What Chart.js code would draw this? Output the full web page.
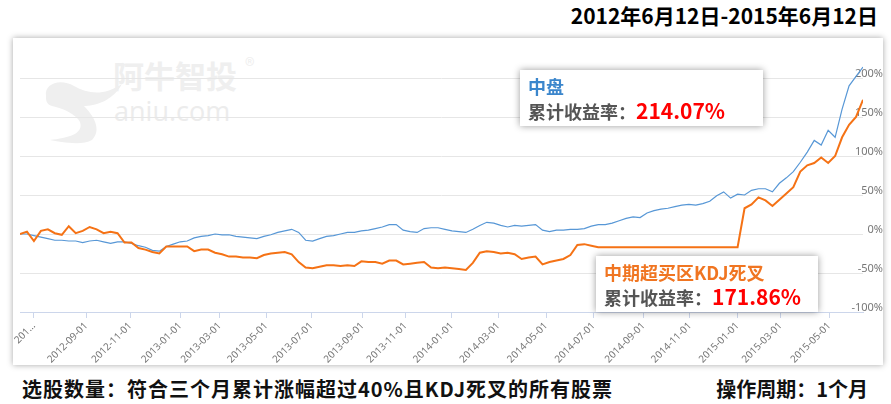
<!DOCTYPE html>
<html lang="zh">
<head>
<meta charset="UTF-8">
<title>中盘 vs 中期超买区KDJ死叉</title>
<script src="https://cdn.jsdelivr.net/npm/chart.js"></script>
<style>
    body {
        margin: 0;
        width: 891px;
        height: 404px;
        background: #fff;
        font-family: "Noto Sans CJK SC", "Noto Sans", sans-serif;
        position: relative;
        overflow: hidden;
    }
    .title {
        position: absolute;
        right: 13px;
        top: 0px;
        font-size: 21px;
        font-weight: bold;
        color: #000;
    }
    .card {
        position: absolute;
        left: 13px;
        top: 38px;
        width: 870px;
        height: 327px;
        background: #fff;
        box-shadow: 0 0 6px rgba(0,0,0,0.35);
    }
    .card canvas { position: absolute; left: 0; top: 0; }
    .wm-cn {
        position: absolute; left: 100px; top: 14px;
        font-size: 31px; font-weight: bold; color: #efefef;
    }
    .wm-reg {
        position: absolute; left: 232px; top: 12px;
        font-size: 20px; color: #efefef;
    }
    .wm-en {
        position: absolute; left: 101px; top: 54px;
        font-size: 27px; color: #ececec; font-family: "Open Sans", sans-serif;
    }
    .wm-logo { position: absolute; left: 25px; top: 18px; }
    .box {
        position: absolute;
        background: #fff;
        box-shadow: 0 0 7px rgba(0,0,0,0.4);
        padding: 4px 8px;
        font-weight: bold;
        line-height: 24px;
        white-space: nowrap;
    }
    .box .name { font-size: 18px; }
    .box .lbl { font-size: 18px; color: #555; }
    .box .val { font-size: 21px; color: #f00; }
    .foot {
        position: absolute;
        top: 374px;
        font-size: 20px;
        font-weight: bold;
        color: #111;
        white-space: nowrap;
    }
</style>
</head>
<body>
<div class="title">2012年6月12日-2015年6月12日</div>

<div class="card">
    <svg class="wm-logo" width="90" height="90" viewBox="0 0 90 90">
        <path d="M8 40 C 6 28, 22 22, 36 30 C 50 38, 66 40, 84 28 C 74 46, 56 50, 46 50 C 56 60, 64 74, 54 84 C 44 90, 22 86, 12 84 C 30 82, 46 78, 42 66 C 38 58, 24 52, 14 50 C 8 48, 8 44, 8 40 Z" fill="#efefef"/>
    </svg>
    <div class="wm-cn">阿牛智投</div>
    <div class="wm-reg">®</div>
    <div class="wm-en">aniu.com</div>
    <canvas id="chart"></canvas>
</div>

<div class="box" style="left:520px; top:70px; width:227px; height:48px;">
    <div class="name" style="color:#3b86cc;">中盘</div>
    <div><span class="lbl">累计收益率：</span><span class="val">214.07%</span></div>
</div>
<div class="box" style="left:596px; top:256px; width:206px; height:48px;">
    <div class="name" style="color:#f07521;">中期超买区KDJ死叉</div>
    <div><span class="lbl">累计收益率：</span><span class="val">171.86%</span></div>
</div>

<div class="foot" style="left:22px; letter-spacing:1px;">选股数量：符合三个月累计涨幅超过40%且KDJ死叉的所有股票</div>
<div class="foot" style="right:23px;">操作周期：1个月</div>

<script>
// one sample every STEP trading days, starting 2012-06-12
const STEP = 6;
const LAST_DAY = 726;

// 中盘 cumulative return (%)
const midCap = [
    0, 0, -2, -4, -6, -8, -8, -9, -9, -11,
    -9, -8, -10, -12, -10, -10, -12, -15, -17, -21,
    -22, -16, -13, -10, -9, -5, -3, -2, 0, -1,
    -1, -3, -4, -5, -6, -3, -1, 2, 4, 6,
    2, -8, -9, -6, -3, -2, 0, 2, 2, 4,
    5, 7, 9, 12, 12, 5, 3, 2, 7, 8,
    8, 6, 4, 3, 2, 6, 11, 15, 14, 11,
    9, 11, 10, 11, 12, 5, 3, 5, 5, 6,
    6, 7, 10, 12, 12, 14, 17, 20, 22, 21,
    27, 30, 32, 33, 35, 37, 38, 37, 39, 42,
    49, 54, 46, 51, 50, 56, 58, 58, 54, 65,
    72, 80, 92, 105, 120, 114, 133, 124, 160, 190,
    202, 214
];

// 中期超买区KDJ死叉 cumulative return (%)
const kdjCross = [
    0, 3, -9, 4, 6, 1, -1, 10, 1, 4,
    9, 6, 1, 3, 1, -11, -11, -18, -20, -23,
    -25, -16, -16, -16, -16, -22, -20, -20, -24, -26,
    -29, -29, -30, -30, -31, -27, -25, -24, -23, -26,
    -36, -43, -44, -42, -40, -40, -41, -40, -41, -35,
    -36, -36, -38, -34, -34, -39, -38, -37, -36, -43,
    -44, -43, -44, -45, -46, -37, -24, -22, -23, -25,
    -24, -26, -32, -30, -29, -39, -36, -34, -32, -27,
    -14, -13, -15, -17, -17, -17, -17, -17, -17, -17,
    -17, -17, -17, -17, -17, -17, -17, -17, -17, -17,
    -17, -17, -17, -17, 33, 38, 47, 43, 36, 44,
    52, 60, 80, 88, 91, 98, 91, 100, 124, 140,
    150, 172
];

// x-axis tick positions (trading-day index) and their labels
const tickDays = [12, 57, 95, 138, 172, 212, 251, 295, 332, 372, 412, 453, 494, 537, 577, 618, 655, 697];
const tickLabels = ['201…', '2012-09-01', '2012-11-01', '2013-01-01', '2013-03-01', '2013-05-01',
    '2013-07-01', '2013-09-01', '2013-11-01', '2014-01-01', '2014-03-01', '2014-05-01',
    '2014-07-01', '2014-09-01', '2014-11-01', '2015-01-01', '2015-03-01', '2015-05-01'];
const yTicks = [-100, -50, 0, 50, 100, 150, 200];

function toPoints(arr) {
    return arr.map((v, i) => ({x: Math.min(i * STEP, LAST_DAY), y: v}));
}

const ctx = document.getElementById('chart').getContext('2d');
new Chart(ctx, {
    type: 'line',
    data: {
        datasets: [
            {
                label: '中期超买区KDJ死叉',
                data: toPoints(kdjCross),
                borderColor: '#f57215',
                borderWidth: 2,
                pointRadius: 0,
                tension: 0
            },
            {
                label: '中盘',
                data: toPoints(midCap),
                borderColor: '#5797d6',
                borderWidth: 1.2,
                pointRadius: 0,
                tension: 0
            }
        ]
    },
    options: {
        responsive: true,
        maintainAspectRatio: false,
        animation: false,
        layout: { padding: { left: 7, top: 1, right: 0, bottom: 0 } },
        plugins: { legend: { display: false }, tooltip: { enabled: false } },
        scales: {
            x: {
                type: 'linear',
                min: 0,
                max: LAST_DAY,
                afterBuildTicks: (scale) => { scale.ticks = tickDays.map(v => ({value: v})); },
                afterFit: (scale) => { scale.height = 53; },
                ticks: {
                    autoSkip: false,
                    minRotation: 45,
                    maxRotation: 45,
                    color: '#777',
                    font: { size: 10, family: 'Noto Sans' },
                    padding: 2,
                    callback: (v, i) => tickLabels[i]
                },
                grid: {
                    drawOnChartArea: false,
                    drawTicks: true,
                    tickLength: 6,
                    color: '#ccd6eb'
                },
                border: { color: '#ccd6eb' }
            },
            y: {
                position: 'right',
                min: -100,
                max: 250,
                afterBuildTicks: (scale) => { scale.ticks = yTicks.map(v => ({value: v})); },
                afterFit: (scale) => {
                    scale.width = 20;
                    scale.paddingTop = 0;
                    scale.paddingBottom = 0;
                },
                ticks: {
                    mirror: true,
                    crossAlign: 'near',
                    padding: 20,
                    labelOffset: -4,
                    color: '#777',
                    font: { size: 11, family: 'Noto Sans' },
                    callback: (v) => v + '%'
                },
                grid: { color: '#e6e6e6', drawTicks: false },
                border: { display: false }
            }
        }
    }
});
</script>
</body>
</html>
